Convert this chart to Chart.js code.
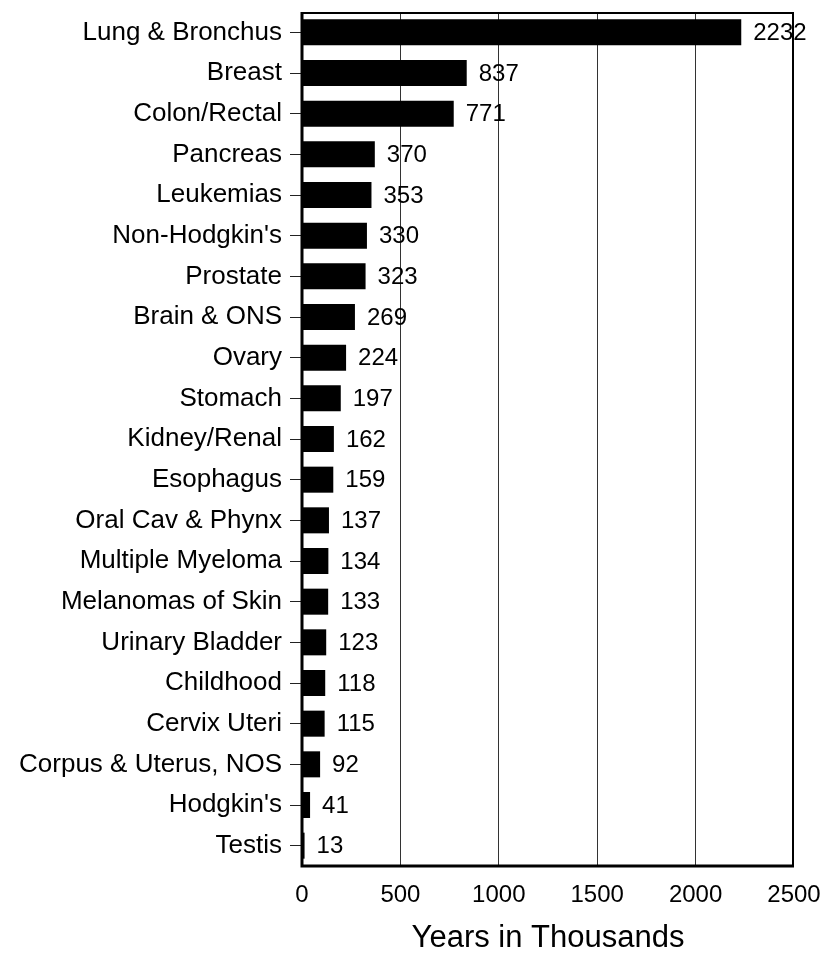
<!DOCTYPE html>
<html>
<head>
<meta charset="utf-8">
<script src="https://cdn.jsdelivr.net/npm/chart.js@4/dist/chart.umd.min.js"></script>
<style>
  html, body { margin: 0; padding: 0; background: #fff; }
  #wrap { width: 828px; height: 957px; }
</style>
</head>
<body>
<div id="wrap"><canvas id="myChart" width="828" height="957"></canvas></div>
<script>
const sites = ['Lung & Bronchus', 'Breast', 'Colon/Rectal', 'Pancreas', 'Leukemias',
  'Non-Hodgkin\'s', 'Prostate', 'Brain & ONS', 'Ovary', 'Stomach', 'Kidney/Renal',
  'Esophagus', 'Oral Cav & Phynx', 'Multiple Myeloma', 'Melanomas of Skin',
  'Urinary Bladder', 'Childhood', 'Cervix Uteri', 'Corpus & Uterus, NOS',
  'Hodgkin\'s', 'Testis']
const years = [2232, 837, 771, 370, 353, 330, 323, 269, 224, 197, 162, 159, 137, 134, 133, 123, 118, 115, 92, 41, 13]
const xTicks = [0, 500, 1000, 1500, 2000, 2500]

const font = 'Arial, "Liberation Sans", sans-serif'

// value labels at the end of each bar + frame around the plot
const extras = {
  id: 'extras',
  afterDatasetsDraw(chart) {
    const c = chart.ctx
    const meta = chart.getDatasetMeta(0)
    c.save()
    c.fillStyle = '#000'
    c.font = '24px ' + font
    c.textAlign = 'left'
    c.textBaseline = 'middle'
    meta.data.forEach((bar, i) => {
      c.fillText(String(years[i]), bar.x + 12, bar.y + 1)
    })
    const a = chart.chartArea
    c.strokeStyle = '#000'
    c.lineWidth = 2
    c.beginPath()
    c.moveTo(a.left, a.top + 1)
    c.lineTo(a.right - 1, a.top + 1)
    c.lineTo(a.right - 1, a.bottom)
    c.stroke()
    c.lineWidth = 3
    c.beginPath()
    c.moveTo(a.left, a.top)
    c.lineTo(a.left, a.bottom)
    c.lineTo(a.right, a.bottom)
    c.stroke()
    c.restore()
  }
}

new Chart(document.getElementById('myChart'), {
  type: 'bar',
  data: {
    labels: sites,
    datasets: [{
      data: years,
      backgroundColor: '#000',
      borderWidth: 0,
      categoryPercentage: 1,
      barPercentage: 0.64
    }]
  },
  plugins: [extras],
  options: {
    indexAxis: 'y',
    responsive: false,
    animation: false,
    layout: { padding: { top: 12, right: 34, left: 0, bottom: 0 } },
    plugins: { legend: { display: false }, tooltip: { enabled: false } },
    scales: {
      x: {
        min: 0,
        max: 2500,
        afterBuildTicks: (s) => { s.ticks = xTicks.map(v => ({ value: v })) },
        afterFit: (s) => { s.height = 91; s.paddingLeft = 0; s.paddingRight = 0 },
        border: { display: false },
        grid: {
          drawTicks: false,
          color: (ctx) => (ctx.tick && (ctx.tick.value === 0 || ctx.tick.value === 2500)) ? 'rgba(0,0,0,0)' : '#333',
          lineWidth: 1,
          borderDash: [3, 2]
        },
        ticks: {
          color: '#000',
          font: { family: font, size: 24 },
          padding: 15,
          maxRotation: 0,
          callback: (v) => String(v)
        },
        title: {
          display: true,
          text: 'Years in Thousands',
          color: '#000',
          font: { family: font, size: 31 },
          padding: { top: 10, bottom: 0 }
        }
      },
      y: {
        afterFit: (s) => { s.width = 302; s.paddingTop = 0; s.paddingBottom = 0 },
        border: { display: false },
        grid: { drawOnChartArea: false, offset: false, color: '#222', tickLength: 12, lineWidth: 1 },
        ticks: { color: '#000', font: { family: font, size: 26 }, padding: 8, autoSkip: false }
      }
    }
  }
})
</script>
</body>
</html>
